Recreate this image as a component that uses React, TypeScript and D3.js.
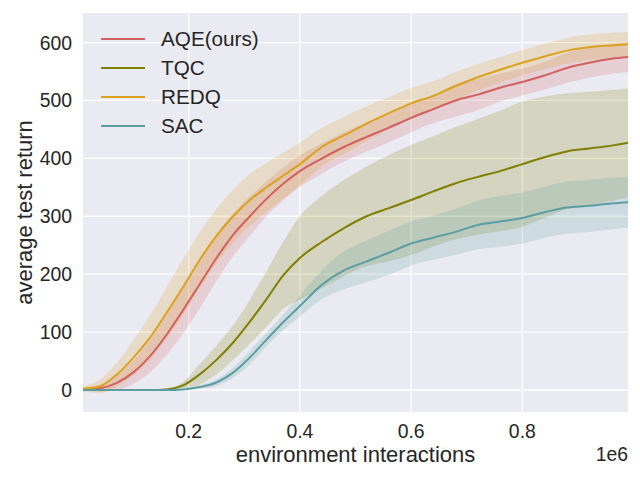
import React from "react";
import * as d3 from "d3";

const steps = [0.01, 0.04, 0.07, 0.1, 0.13, 0.16, 0.19, 0.22, 0.25, 0.28, 0.31, 0.34, 0.37, 0.4, 0.44, 0.48, 0.52, 0.56, 0.6, 0.64, 0.68, 0.72, 0.76, 0.8, 0.84, 0.88, 0.92, 0.96, 0.99];

const aqeMean = [1, 3, 12, 30, 58, 95, 138, 183, 228, 268, 300, 330, 356, 378, 400, 420, 437, 453, 470, 485, 500, 510, 522, 532, 543, 556, 565, 572, 575];
const aqeStd = [2, 6, 12, 20, 28, 35, 40, 42, 40, 37, 34, 30, 28, 27, 26, 25, 25, 25, 25, 24, 28, 27, 24, 23, 24, 26, 26, 26, 26];

const tqcMean = [0, 0, 0, 0, 0, 1, 8, 27, 52, 82, 118, 157, 198, 228, 256, 280, 300, 314, 328, 343, 357, 368, 378, 390, 402, 412, 417, 422, 427];
const tqcStd = [0, 0, 0, 0, 0, 1, 6, 18, 25, 30, 38, 48, 58, 72, 80, 83, 86, 92, 95, 95, 97, 100, 104, 108, 105, 100, 98, 96, 94];

const redqMean = [2, 6, 26, 55, 90, 133, 178, 225, 266, 300, 328, 350, 370, 390, 420, 440, 460, 478, 495, 508, 525, 540, 553, 565, 576, 586, 592, 595, 597];
const redqStd = [4, 12, 20, 30, 38, 44, 48, 48, 47, 46, 45, 42, 40, 37, 33, 32, 30, 28, 27, 25, 24, 23, 22, 22, 22, 22, 22, 22, 21];

const sacMean = [0, 0, 0, 0, 0, 0, 1, 5, 13, 30, 56, 87, 117, 145, 182, 207, 222, 237, 253, 263, 273, 285, 291, 297, 307, 315, 318, 322, 324];
const sacStd = [0, 0, 0, 0, 0, 0, 1, 3, 6, 9, 12, 12, 14, 18, 25, 33, 36, 38, 38, 38, 40, 42, 44, 44, 44, 45, 45, 45, 44];

const seriesNames = ["AQE(ours)", "TQC", "REDQ", "SAC"];
const seriesColors = ["#d1605e", "#7f7f00", "#daa21f", "#5b9ea2"];
const seriesMeans = [aqeMean, tqcMean, redqMean, sacMean];
const seriesStds = [aqeStd, tqcStd, redqStd, sacStd];

const xTicks = [0.2, 0.4, 0.6, 0.8];
const yTicks = [0, 100, 200, 300, 400, 500, 600];

const W = 640;
const H = 480;
const L = 83;
const R = 628;
const T = 13;
const B = 412;
const FONT = "'Liberation Sans', Arial, Helvetica, sans-serif";

export default function App() {
  const x = d3.scaleLinear().domain([0.01e6, 0.99e6]).range([L, R]);
  const y = d3.scaleLinear().domain([-38, 651]).range([B, T]);

  const line = d3
    .line<[number, number]>()
    .x((d) => x(d[0]))
    .y((d) => y(d[1]))
    .curve(d3.curveMonotoneX);
  const area = d3
    .area<[number, number, number]>()
    .x((d) => x(d[0]))
    .y0((d) => y(d[1]))
    .y1((d) => y(d[2]))
    .curve(d3.curveMonotoneX);

  const xs = steps.map((s) => s * 1e6);

  return (
    <svg width={W} height={H} style={{ position: "absolute", left: 0, top: 0 }} fontFamily={FONT}>
      <rect x={0} y={0} width={W} height={H} fill="#ffffff" />
      <defs>
        <clipPath id="plotclip">
          <rect x={L} y={T} width={R - L} height={B - T} />
        </clipPath>
      </defs>
      <rect x={L} y={T} width={R - L} height={B - T} fill="#eaeaf2" />
      {yTicks.map((t) => (
        <line key={"gy" + t} x1={L} x2={R} y1={y(t)} y2={y(t)} stroke="#ffffff" strokeWidth={1.3} />
      ))}
      {xTicks.map((t) => (
        <line key={"gx" + t} x1={x(t * 1e6)} x2={x(t * 1e6)} y1={T} y2={B} stroke="#ffffff" strokeWidth={1.3} />
      ))}
      <g clipPath="url(#plotclip)">
        {seriesNames.map((n, i) => {
          const pts = xs.map((xv, j) => [xv, seriesMeans[i][j] - seriesStds[i][j], seriesMeans[i][j] + seriesStds[i][j]] as [number, number, number]);
          return <path key={"a" + n} d={area(pts) || ""} fill={seriesColors[i]} fillOpacity={0.2} stroke="none" />;
        })}
        {seriesNames.map((n, i) => {
          const pts = xs.map((xv, j) => [xv, seriesMeans[i][j]] as [number, number]);
          return <path key={"l" + n} d={line(pts) || ""} fill="none" stroke={seriesColors[i]} strokeWidth={2} />;
        })}
      </g>
      {yTicks.map((t) => (
        <text key={"ty" + t} x={72} y={y(t)} dy="0.36em" textAnchor="end" fontSize={19.4} fill="#262626">
          {t}
        </text>
      ))}
      {xTicks.map((t) => (
        <text key={"tx" + t} x={x(t * 1e6)} y={438} textAnchor="middle" fontSize={19.4} fill="#262626">
          {t.toFixed(1)}
        </text>
      ))}
      <text x={R} y={461} textAnchor="end" fontSize={19.4} fill="#262626">
        1e6
      </text>
      <text x={(L + R) / 2} y={462} textAnchor="middle" fontSize={22} fill="#262626">
        environment interactions
      </text>
      <text
        transform={`translate(32, ${(T + B) / 2}) rotate(-90)`}
        textAnchor="middle"
        fontSize={22}
        fill="#262626"
      >
        average test return
      </text>
      {seriesNames.map((n, i) => (
        <g key={"lg" + n} transform={`translate(0, ${39 + i * 29})`}>
          <line x1={101} x2={145} y1={0} y2={0} stroke={seriesColors[i]} strokeWidth={2} />
          <text x={161} y={0} dy="0.36em" fontSize={20.7} fill="#262626">
            {n}
          </text>
        </g>
      ))}
    </svg>
  );
}
